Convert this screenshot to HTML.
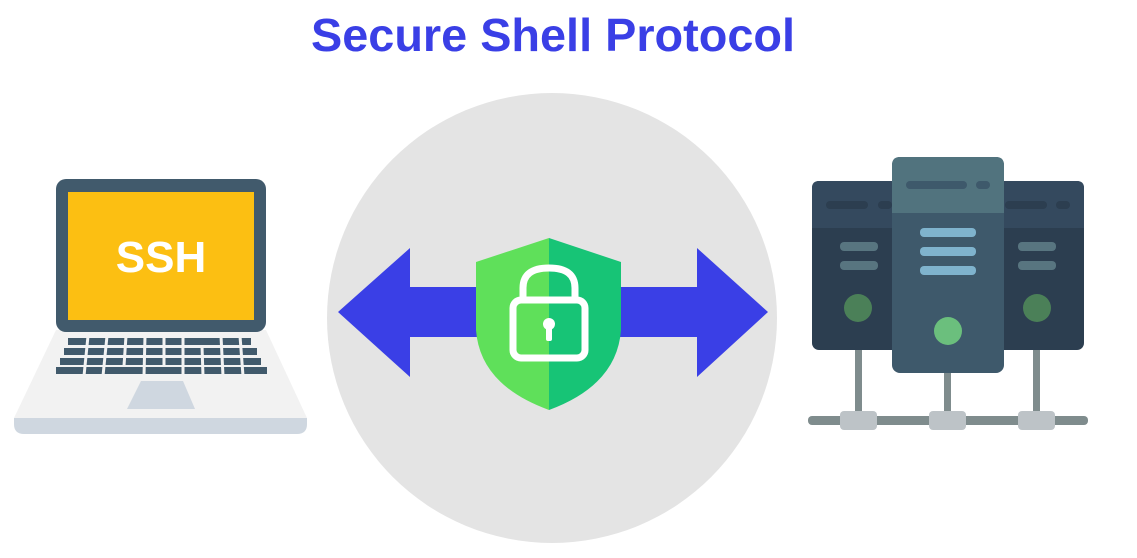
<!DOCTYPE html>
<html><head><style>
body{margin:0;background:#fff;width:1137px;height:558px;overflow:hidden;position:relative;font-family:"Liberation Sans",sans-serif}
</style></head><body>
<svg width="1137" height="558" viewBox="0 0 1137 558" style="position:absolute;left:0;top:0">
<text x="553" y="51" text-anchor="middle" textLength="484" lengthAdjust="spacingAndGlyphs" font-family="Liberation Sans, sans-serif" font-weight="bold" font-size="46" fill="#3a3fe6">Secure Shell Protocol</text>
<circle cx="552" cy="318" r="225" fill="#e4e4e4"/>
<polygon points="338,312 410,248 410,287 480,287 480,337 410,337 410,377" fill="#3a3fe6"/>
<polygon points="768,312 697,248 697,287 620,287 620,337 697,337 697,377" fill="#3a3fe6"/>
<path d="M549,238 L476,262 L476,330 Q480,385 549,410 Z" fill="#5fe05a"/>
<path d="M549,238 L621,262 L621,330 Q617,385 549,410 Z" fill="#17c476"/>
<path d="M523,300 L523,288 Q523,268 549,268 Q575,268 575,288 L575,300" fill="none" stroke="#fff" stroke-width="7"/>
<rect x="513" y="300" width="72" height="58" rx="8" fill="none" stroke="#fff" stroke-width="7"/>
<circle cx="549" cy="324" r="6" fill="#fff"/>
<rect x="546" y="326" width="6" height="15" rx="2" fill="#fff"/>
<polygon points="56,330 266,330 307,418 14,418" fill="#f2f2f2"/>
<path d="M14,418 L307,418 L307,424 Q307,434 297,434 L24,434 Q14,434 14,424 Z" fill="#cfd7e0"/>
<rect x="56" y="179" width="210" height="153" rx="10" fill="#415a6c"/>
<rect x="68" y="192" width="186" height="128" fill="#fcbf12"/>
<text x="161" y="272" text-anchor="middle" font-family="Liberation Sans, sans-serif" font-weight="bold" font-size="44" fill="#fff">SSH</text>
<g fill="#415a6c">
<rect x="68" y="338" width="183" height="7"/>
<rect x="64" y="348" width="193" height="7"/>
<rect x="60" y="358" width="201" height="7"/>
<rect x="56" y="367" width="211" height="7"/>
</g>
<g stroke="#f2f2f2" stroke-width="3">
<line x1="88" y1="336" x2="84" y2="376"/><line x1="107" y1="336" x2="103" y2="376"/>
<line x1="126" y1="336" x2="124" y2="366"/><line x1="145" y1="336" x2="144" y2="376"/>
<line x1="164" y1="336" x2="164" y2="366"/><line x1="183" y1="336" x2="183" y2="376"/>
<line x1="202" y1="346" x2="203" y2="376"/><line x1="221" y1="336" x2="223" y2="376"/>
<line x1="240" y1="336" x2="243" y2="376"/>
</g>
<polygon points="141,381 183,381 195,409 127,409" fill="#cfd7e0"/>
<g fill="#7f8c8d">
<rect x="855" y="345" width="7" height="72"/><rect x="944" y="370" width="7" height="48"/><rect x="1033" y="345" width="7" height="72"/>
<rect x="808" y="416" width="280" height="9" rx="4"/>
</g>
<g fill="#bdc3c7">
<rect x="840" y="411" width="37" height="19" rx="4"/><rect x="929" y="411" width="37" height="19" rx="4"/><rect x="1018" y="411" width="37" height="19" rx="4"/>
</g>
<rect x="812" y="181" width="90" height="169" rx="7" fill="#2c3e50"/>
<path d="M812,188 Q812,181 819,181 L902,181 L902,228 L812,228 Z" fill="#34495e"/>
<rect x="994" y="181" width="90" height="169" rx="7" fill="#2c3e50"/>
<path d="M994,181 L1077,181 Q1084,181 1084,188 L1084,228 L994,228 Z" fill="#34495e"/>
<g fill="#2c3e50"><rect x="826" y="201" width="42" height="8" rx="4"/><rect x="878" y="201" width="14" height="8" rx="4"/><rect x="1005" y="201" width="42" height="8" rx="4"/><rect x="1056" y="201" width="14" height="8" rx="4"/></g>
<g fill="#587580"><rect x="840" y="242" width="38" height="9" rx="4"/><rect x="840" y="261" width="38" height="9" rx="4"/><rect x="1018" y="242" width="38" height="9" rx="4"/><rect x="1018" y="261" width="38" height="9" rx="4"/></g>
<circle cx="858" cy="308" r="14" fill="#4b8058"/><circle cx="1037" cy="308" r="14" fill="#4b8058"/>
<rect x="892" y="157" width="112" height="216" rx="8" fill="#3e596b"/>
<path d="M892,165 Q892,157 900,157 L996,157 Q1004,157 1004,165 L1004,213 L892,213 Z" fill="#51737e"/>
<g fill="#3e596b"><rect x="906" y="181" width="61" height="8" rx="4"/><rect x="976" y="181" width="14" height="8" rx="4"/></g>
<g fill="#7fb3cd"><rect x="920" y="228" width="56" height="9" rx="4"/><rect x="920" y="247" width="56" height="9" rx="4"/><rect x="920" y="266" width="56" height="9" rx="4"/></g>
<circle cx="948" cy="331" r="14" fill="#6bbf7d"/>
</svg>
</body></html>
